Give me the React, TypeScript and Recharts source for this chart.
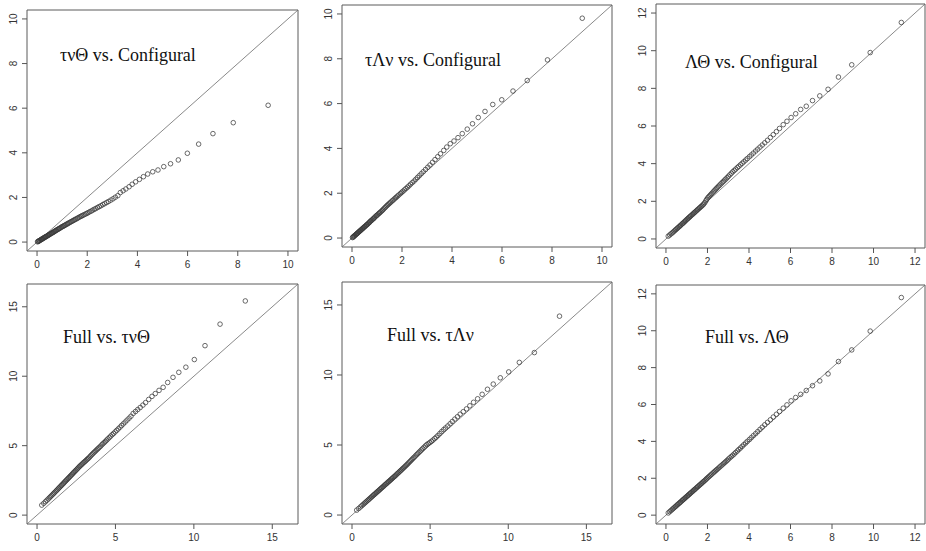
import { ScatterChart, Scatter, XAxis, YAxis, ReferenceLine, ReferenceArea } from 'recharts';

// chi-square(2) quantiles, x axis of the two "Configural" panels on the left
const xDf2 = [
  0.02, 0.04, 0.06, 0.08, 0.10, 0.12, 0.15, 0.17, 0.19, 0.21,
  0.23, 0.26, 0.28, 0.30, 0.33, 0.35, 0.37, 0.40, 0.42, 0.45,
  0.47, 0.50, 0.52, 0.55, 0.58, 0.60, 0.63, 0.66, 0.69, 0.71,
  0.74, 0.77, 0.80, 0.83, 0.86, 0.89, 0.92, 0.96, 0.99, 1.02,
  1.06, 1.09, 1.12, 1.16, 1.20, 1.23, 1.27, 1.31, 1.35, 1.39,
  1.43, 1.47, 1.51, 1.55, 1.60, 1.64, 1.69, 1.74, 1.78, 1.83,
  1.88, 1.94, 1.99, 2.04, 2.10, 2.16, 2.22, 2.28, 2.34, 2.41,
  2.48, 2.55, 2.62, 2.69, 2.77, 2.85, 2.94, 3.03, 3.12, 3.22,
  3.32, 3.43, 3.54, 3.67, 3.79, 3.93, 4.08, 4.24, 4.41, 4.61,
  4.82, 5.05, 5.32, 5.63, 5.99, 6.44, 7.01, 7.82, 9.21,
];

// chi-square(3) quantiles
const xDf3 = [
  0.11, 0.18, 0.24, 0.30, 0.35, 0.40, 0.45, 0.49, 0.54, 0.58,
  0.63, 0.67, 0.71, 0.76, 0.80, 0.84, 0.88, 0.92, 0.96, 1.01,
  1.05, 1.09, 1.13, 1.17, 1.21, 1.26, 1.30, 1.34, 1.38, 1.42,
  1.47, 1.51, 1.55, 1.60, 1.64, 1.69, 1.73, 1.78, 1.82, 1.87,
  1.92, 1.96, 2.01, 2.06, 2.11, 2.16, 2.21, 2.27, 2.32, 2.37,
  2.42, 2.47, 2.53, 2.59, 2.65, 2.71, 2.77, 2.83, 2.89, 2.95,
  3.01, 3.08, 3.15, 3.22, 3.29, 3.36, 3.44, 3.51, 3.59, 3.67,
  3.75, 3.84, 3.92, 4.02, 4.11, 4.21, 4.32, 4.42, 4.53, 4.64,
  4.76, 4.89, 5.03, 5.17, 5.32, 5.47, 5.65, 5.83, 6.03, 6.25,
  6.49, 6.76, 7.06, 7.41, 7.81, 8.31, 8.95, 9.84, 11.34,
];

// chi-square(4) quantiles
const xDf4 = [
  0.30, 0.43, 0.54, 0.63, 0.71, 0.79, 0.86, 0.93, 1.00, 1.06,
  1.12, 1.19, 1.25, 1.31, 1.37, 1.42, 1.48, 1.54, 1.59, 1.65,
  1.70, 1.76, 1.81, 1.87, 1.92, 1.98, 2.03, 2.09, 2.14, 2.20,
  2.25, 2.31, 2.36, 2.42, 2.47, 2.53, 2.58, 2.64, 2.70, 2.75,
  2.81, 2.87, 2.93, 2.99, 3.05, 3.11, 3.17, 3.23, 3.29, 3.36,
  3.42, 3.49, 3.55, 3.62, 3.69, 3.76, 3.83, 3.90, 3.97, 4.05,
  4.13, 4.20, 4.28, 4.36, 4.44, 4.52, 4.61, 4.70, 4.79, 4.88,
  4.98, 5.08, 5.18, 5.29, 5.39, 5.50, 5.62, 5.74, 5.87, 5.99,
  6.13, 6.28, 6.42, 6.58, 6.75, 6.92, 7.12, 7.33, 7.54, 7.78,
  8.04, 8.33, 8.67, 9.04, 9.49, 10.03, 10.71, 11.67, 13.28,
];

const yTauNuTheta = [
  0.01, 0.03, 0.04, 0.05, 0.07, 0.08, 0.10, 0.12, 0.13, 0.14,
  0.16, 0.18, 0.19, 0.21, 0.23, 0.24, 0.25, 0.27, 0.29, 0.31,
  0.32, 0.34, 0.36, 0.38, 0.40, 0.41, 0.43, 0.45, 0.47, 0.49,
  0.51, 0.53, 0.55, 0.57, 0.59, 0.61, 0.63, 0.66, 0.68, 0.70,
  0.72, 0.74, 0.76, 0.79, 0.81, 0.83, 0.86, 0.88, 0.91, 0.93,
  0.96, 0.98, 1.01, 1.03, 1.06, 1.09, 1.12, 1.15, 1.17, 1.20,
  1.23, 1.26, 1.29, 1.32, 1.36, 1.39, 1.43, 1.47, 1.50, 1.55,
  1.59, 1.63, 1.68, 1.72, 1.77, 1.82, 1.88, 1.94, 2.01, 2.08,
  2.22, 2.30, 2.38, 2.48, 2.59, 2.70, 2.81, 2.93, 3.05, 3.15,
  3.23, 3.38, 3.51, 3.68, 3.98, 4.39, 4.86, 5.35, 6.13,
];

const yTauLambdaNu = [
  0.02, 0.04, 0.06, 0.08, 0.10, 0.12, 0.15, 0.17, 0.19, 0.21,
  0.23, 0.26, 0.28, 0.30, 0.33, 0.35, 0.37, 0.40, 0.42, 0.45,
  0.47, 0.50, 0.52, 0.55, 0.58, 0.60, 0.63, 0.66, 0.69, 0.72,
  0.75, 0.78, 0.81, 0.84, 0.87, 0.90, 0.94, 0.98, 1.01, 1.04,
  1.08, 1.11, 1.14, 1.18, 1.22, 1.26, 1.30, 1.35, 1.39, 1.44,
  1.48, 1.52, 1.56, 1.60, 1.65, 1.69, 1.74, 1.79, 1.83, 1.88,
  1.93, 1.99, 2.04, 2.09, 2.15, 2.21, 2.27, 2.33, 2.40, 2.47,
  2.54, 2.62, 2.70, 2.78, 2.87, 2.96, 3.06, 3.16, 3.26, 3.38,
  3.50, 3.63, 3.76, 3.91, 4.06, 4.21, 4.33, 4.48, 4.66, 4.86,
  5.10, 5.38, 5.65, 5.96, 6.17, 6.56, 7.03, 7.95, 9.81,
];

const yLambdaTheta = [
  0.15, 0.21, 0.27, 0.32, 0.37, 0.42, 0.47, 0.51, 0.56, 0.60,
  0.65, 0.69, 0.73, 0.78, 0.82, 0.86, 0.90, 0.94, 0.99, 1.04,
  1.08, 1.12, 1.16, 1.20, 1.24, 1.29, 1.33, 1.37, 1.41, 1.45,
  1.50, 1.54, 1.58, 1.63, 1.67, 1.72, 1.76, 1.81, 1.86, 1.93,
  2.02, 2.10, 2.18, 2.24, 2.30, 2.36, 2.42, 2.49, 2.55, 2.61,
  2.67, 2.73, 2.80, 2.86, 2.93, 3.00, 3.06, 3.13, 3.19, 3.26,
  3.33, 3.41, 3.49, 3.57, 3.64, 3.71, 3.79, 3.86, 3.94, 4.02,
  4.10, 4.19, 4.27, 4.37, 4.46, 4.56, 4.67, 4.77, 4.88, 4.99,
  5.11, 5.24, 5.39, 5.54, 5.70, 5.87, 6.07, 6.25, 6.45, 6.65,
  6.88, 7.05, 7.35, 7.60, 7.95, 8.60, 9.25, 9.90, 11.50,
];

const yFullTauNuTheta = [
  0.72, 0.85, 0.97, 1.07, 1.16, 1.25, 1.33, 1.41, 1.49, 1.56,
  1.63, 1.71, 1.78, 1.85, 1.92, 1.98, 2.05, 2.12, 2.18, 2.25,
  2.31, 2.38, 2.44, 2.51, 2.57, 2.64, 2.70, 2.77, 2.83, 2.90,
  2.96, 3.03, 3.09, 3.16, 3.22, 3.29, 3.35, 3.42, 3.49, 3.55,
  3.61, 3.67, 3.74, 3.80, 3.86, 3.92, 3.99, 4.05, 4.11, 4.19,
  4.27, 4.35, 4.42, 4.50, 4.57, 4.65, 4.73, 4.80, 4.88, 4.96,
  5.06, 5.14, 5.22, 5.31, 5.40, 5.49, 5.59, 5.69, 5.79, 5.88,
  5.99, 6.10, 6.21, 6.33, 6.45, 6.57, 6.70, 6.84, 6.98, 7.12,
  7.32, 7.46, 7.60, 7.75, 7.92, 8.10, 8.33, 8.55, 8.75, 8.98,
  9.20, 9.55, 9.92, 10.28, 10.65, 11.20, 12.20, 13.75, 15.42,
];

const yFullTauLambdaNu = [
  0.35, 0.47, 0.58, 0.67, 0.75, 0.83, 0.90, 0.97, 1.04, 1.10,
  1.16, 1.23, 1.29, 1.35, 1.41, 1.46, 1.52, 1.58, 1.63, 1.69,
  1.74, 1.80, 1.85, 1.91, 1.96, 2.02, 2.07, 2.13, 2.18, 2.24,
  2.29, 2.35, 2.40, 2.46, 2.51, 2.57, 2.62, 2.68, 2.74, 2.79,
  2.85, 2.92, 2.98, 3.04, 3.11, 3.17, 3.23, 3.30, 3.36, 3.43,
  3.50, 3.57, 3.64, 3.72, 3.80, 3.88, 3.96, 4.04, 4.12, 4.21,
  4.30, 4.38, 4.47, 4.56, 4.65, 4.74, 4.84, 4.94, 5.03, 5.10,
  5.18, 5.26, 5.35, 5.46, 5.56, 5.68, 5.82, 5.96, 6.10, 6.22,
  6.36, 6.52, 6.68, 6.85, 7.02, 7.20, 7.38, 7.58, 7.80, 8.05,
  8.30, 8.62, 8.98, 9.35, 9.80, 10.22, 10.90, 11.60, 14.20,
];

const yFullLambdaTheta = [
  0.12, 0.19, 0.25, 0.31, 0.36, 0.41, 0.46, 0.50, 0.55, 0.59,
  0.64, 0.68, 0.72, 0.77, 0.81, 0.85, 0.89, 0.93, 0.97, 1.02,
  1.06, 1.10, 1.14, 1.18, 1.22, 1.27, 1.31, 1.35, 1.39, 1.43,
  1.48, 1.52, 1.56, 1.61, 1.65, 1.70, 1.74, 1.79, 1.83, 1.88,
  1.93, 1.98, 2.03, 2.08, 2.13, 2.18, 2.23, 2.29, 2.34, 2.39,
  2.44, 2.49, 2.55, 2.61, 2.67, 2.73, 2.79, 2.85, 2.91, 2.97,
  3.04, 3.11, 3.18, 3.25, 3.32, 3.40, 3.48, 3.56, 3.64, 3.73,
  3.82, 3.91, 4.00, 4.10, 4.20, 4.31, 4.42, 4.53, 4.65, 4.77,
  4.90, 5.03, 5.17, 5.32, 5.47, 5.62, 5.80, 5.98, 6.20, 6.38,
  6.55, 6.76, 7.02, 7.28, 7.66, 8.33, 8.96, 9.98, 11.80,
];

const titles = [
  'τνΘ vs. Configural',
  'τΛν vs. Configural',
  'ΛΘ vs. Configural',
  'Full vs. τνΘ',
  'Full vs. τΛν',
  'Full vs. ΛΘ',
];

const ticks10 = [0, 2, 4, 6, 8, 10];
const ticks12 = [0, 2, 4, 6, 8, 10, 12];
const ticks15 = [0, 5, 10, 15];

const panels = [
  { xs: xDf2, ys: yTauNuTheta, max: 10, ticks: ticks10, box: [27, 10, 271, 241], title: [60, 55] },
  { xs: xDf2, ys: yTauLambdaNu, max: 10, ticks: ticks10, box: [342, 5, 270, 242], title: [365, 60] },
  { xs: xDf3, ys: yLambdaTheta, max: 12, ticks: ticks12, box: [656, 4, 269, 244], title: [685, 62] },
  { xs: xDf4, ys: yFullTauNuTheta, max: 16, ticks: ticks15, box: [27, 284, 271, 240], title: [63, 337] },
  { xs: xDf4, ys: yFullTauLambdaNu, max: 16, ticks: ticks15, box: [342, 282, 270, 242], title: [387, 335] },
  { xs: xDf3, ys: yFullLambdaTheta, max: 12, ticks: ticks12, box: [656, 285, 269, 239], title: [705, 337] },
];

const AXIS_W = 22;
const AXIS_H = 26;
const PAD = 2;
const tickFont = '"Liberation Sans", Arial, sans-serif';

const XTick = (props: any) => {
  const { x, y, payload } = props;
  return (
    <text x={x} y={y} dy={9} textAnchor="middle" fontSize={10} fill="#333" fontFamily={tickFont}>
      {payload.value}
    </text>
  );
};

const YTick = (props: any) => {
  const { x, y, payload } = props;
  return (
    <text
      x={x}
      y={y}
      transform={`rotate(-90 ${x} ${y})`}
      textAnchor="middle"
      fontSize={10}
      fill="#333"
      fontFamily={tickFont}
    >
      {payload.value}
    </text>
  );
};

const Ring = (props: any) => (
  <circle cx={props.cx} cy={props.cy} r={2.3} fill="none" stroke="#3a3a3a" strokeWidth={0.75} />
);

function QQPanel({ xs, ys, max, ticks, box }: any) {
  const lo = -0.04 * max;
  const hi = 1.04 * max;
  const [left, top, w, h] = box;
  const data = xs.map((x: number, i: number) => ({ x, y: ys[i] }));

  return (
    <div style={{ position: 'absolute', left: left - AXIS_W, top: top - PAD }}>
      <ScatterChart
        width={AXIS_W + w + PAD}
        height={PAD + h + AXIS_H}
        margin={{ top: PAD, right: PAD, bottom: 0, left: 0 }}
      >
        <XAxis
          type="number"
          dataKey="x"
          domain={[lo, hi]}
          ticks={ticks}
          allowDataOverflow
          height={AXIS_H}
          axisLine={false}
          tickSize={5}
          tickMargin={3}
          tickLine={{ stroke: '#555' }}
          tick={XTick}
          interval={0}
        />
        <YAxis
          type="number"
          dataKey="y"
          domain={[lo, hi]}
          ticks={ticks}
          allowDataOverflow
          width={AXIS_W}
          axisLine={false}
          tickSize={5}
          tickMargin={5}
          tickLine={{ stroke: '#555' }}
          tick={YTick}
          interval={0}
        />
        <ReferenceArea x1={lo} x2={hi} y1={lo} y2={hi} fill="none" stroke="#5a5a5a" strokeWidth={1} ifOverflow="visible" />
        <ReferenceLine
          segment={[{ x: lo, y: lo }, { x: hi, y: hi }]}
          stroke="#6b6b6b"
          strokeWidth={0.8}
          ifOverflow="visible"
        />
        <Scatter data={data} shape={Ring} isAnimationActive={false} />
      </ScatterChart>
    </div>
  );
}

export default function App() {
  return (
    <div style={{ position: 'absolute', left: 0, top: 0, width: 926, height: 551, background: '#fff' }}>
      {panels.map((p, i) => (
        <QQPanel key={i} {...p} />
      ))}
      {panels.map((p, i) => (
        <div
          key={'t' + i}
          style={{
            position: 'absolute',
            left: p.title[0],
            top: p.title[1] - 11,
            fontSize: 18,
            lineHeight: '22px',
            whiteSpace: 'nowrap',
            color: '#111',
            fontFamily: '"Liberation Serif", "Times New Roman", serif',
          }}
        >
          {titles[i]}
        </div>
      ))}
    </div>
  );
}
